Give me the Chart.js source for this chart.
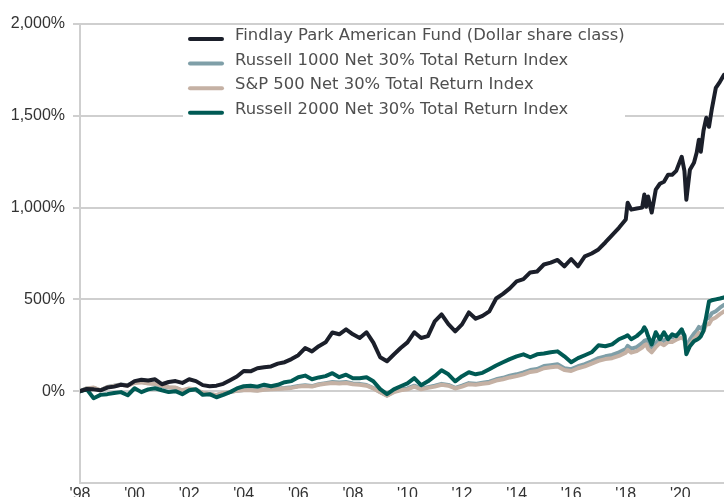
<!DOCTYPE html>
<html>
<head>
<meta charset="utf-8">
<script src="https://cdn.jsdelivr.net/npm/chart.js@4"></script>
<style>
html,body{margin:0;padding:0;overflow:hidden;background:#fff;}
#wrap{width:724px;height:512px;}
</style>
</head>
<body>
<div id="wrap"><canvas id="perf_chart"></canvas></div>
<script>
// decimal years (quarterly to 2017, then denser)
var dates = [
 1998, 1998.25, 1998.5, 1998.75, 1999, 1999.25, 1999.5, 1999.75,
 2000, 2000.25, 2000.5, 2000.75, 2001, 2001.25, 2001.5, 2001.75,
 2002, 2002.25, 2002.5, 2002.75, 2003, 2003.25, 2003.5, 2003.75,
 2004, 2004.25, 2004.5, 2004.75, 2005, 2005.25, 2005.5, 2005.75,
 2006, 2006.25, 2006.5, 2006.75, 2007, 2007.25, 2007.5, 2007.75,
 2008, 2008.25, 2008.5, 2008.75, 2009, 2009.25, 2009.5, 2009.75,
 2010, 2010.25, 2010.5, 2010.75, 2011, 2011.25, 2011.5, 2011.75,
 2012, 2012.25, 2012.5, 2012.75, 2013, 2013.25, 2013.5, 2013.75,
 2014, 2014.25, 2014.5, 2014.75, 2015, 2015.25, 2015.5, 2015.75,
 2016, 2016.25, 2016.5, 2016.75, 2017, 2017.25, 2017.5, 2017.75,
 2018, 2018.07, 2018.2, 2018.4, 2018.6, 2018.68, 2018.75, 2018.82, 2018.95, 2019.1,
 2019.25, 2019.4, 2019.55, 2019.7, 2019.85, 2020.05, 2020.15, 2020.22, 2020.35, 2020.5,
 2020.6, 2020.68, 2020.75, 2020.85, 2020.95, 2021.05, 2021.15, 2021.3, 2021.45, 2021.6
];

var fund = [
 0, 12, 10, 5, 20, 25, 35, 30,
 55, 62, 58, 65, 38, 50, 55, 45,
 65, 55, 33, 27, 30, 40, 60, 80,
 110, 108, 125, 130, 135, 150, 158, 175,
 196, 235, 217, 245, 266, 320, 310, 337,
 310, 290, 321, 265, 185, 163, 200, 235,
 266, 321, 290, 300, 380, 418, 365, 326,
 364, 429, 395, 410, 435, 505, 530, 560,
 598, 610, 647, 652, 690, 700, 715, 680,
 720, 680, 734, 750, 772, 810, 850, 890,
 935, 1027, 989, 995, 1000, 1071, 1005, 1060, 973, 1098,
 1130, 1141, 1179, 1179, 1200, 1277, 1200, 1043, 1206, 1244,
 1300, 1370, 1304, 1420, 1489, 1440, 1533, 1652, 1685, 1723
];

var russell1000 = [
 0, 15, 18, 5, 23, 30, 37, 33,
 50, 50, 45, 40, 28, 20, 18, 3,
 12, 5, -10, -17, -22, -12, -5, 3,
 7, 7, 5, 10, 12, 15, 18, 22,
 28, 32, 28, 38, 44, 50, 47, 50,
 42, 40, 34, 17, -4, -24, -2, 9,
 15, 30, 14, 22, 30, 40, 34, 18,
 30, 44, 40, 46, 52, 65, 73, 84,
 92, 102, 115, 121, 137, 142, 147, 125,
 120, 136, 147, 163, 180, 190, 198, 212,
 230, 247, 231, 240, 262, 274, 279, 252, 232, 262,
 286, 274, 292, 292, 306, 320, 306, 233, 282, 314,
 330, 350, 341, 356, 395, 398, 424, 436, 455, 470
];

var sp500 = [
 0, 15, 20, 5, 22, 28, 35, 30,
 45, 48, 42, 40, 30, 22, 20, 5,
 15, 8, -8, -15, -20, -10, -5, 2,
 5, 5, 3, 8, 10, 12, 15, 18,
 25, 28, 25, 35, 40, 45, 42, 45,
 38, 35, 30, 15, -5, -25, -5, 5,
 10, 25, 10, 18, 25, 35, 30, 15,
 25, 38, 35, 40, 45, 58, 65, 75,
 82, 92, 105, 110, 125, 130, 135, 115,
 110, 125, 135, 150, 165, 175, 180, 192,
 210, 225, 210, 218, 238, 250, 255, 230, 212, 240,
 262, 250, 268, 268, 280, 293, 280, 212, 255, 285,
 300, 318, 310, 326, 364, 365, 390, 402, 420, 435
];

var russell2000 = [
 0, 10, -38, -20, -16, -10, -5, -22,
 16, -5, 10, 16, 5, -5, 0, -16,
 5, 11, -20, -16, -33, -20, -5, 15,
 27, 30, 25, 35, 27, 35, 49, 55,
 76, 85, 65, 75, 82, 98, 76, 90,
 71, 71, 76, 54, 11, -16, 10, 27,
 43, 71, 33, 54, 82, 114, 92, 54,
 82, 103, 92, 100, 120, 140, 158, 175,
 190, 201, 185, 201, 205, 212, 217, 190,
 158, 180, 196, 212, 250, 245, 255, 283,
 299, 305, 283, 300, 326, 348, 330, 299, 255, 321,
 283, 321, 283, 310, 299, 337, 300, 201, 245, 272,
 280, 288, 299, 330, 408, 489, 495, 500, 505, 511
];

var yearTicks = [1998, 2000, 2002, 2004, 2006, 2008, 2010, 2012, 2014, 2016, 2018, 2020];

var seriesNames = [
 'Findlay Park American Fund (Dollar share class)',
 'Russell 1000 Net 30% Total Return Index',
 'S&P 500 Net 30% Total Return Index',
 'Russell 2000 Net 30% Total Return Index'
];
var seriesColors = ['#1b1f2a', '#7f9fa8', '#c5b1a4', '#005a54'];

function toPoints(vals){
  var pts = [];
  for (var i = 0; i < dates.length; i++) {
    pts.push({x: dates[i], y: vals[i]});
  }
  return pts;
}

function makeSet(idx, vals){
  return {
    label: seriesNames[idx],
    data: toPoints(vals),
    borderColor: seriesColors[idx],
    backgroundColor: seriesColors[idx],
    borderWidth: 4,
    pointRadius: 0,
    tension: 0,
    borderJoinStyle: 'round',
    borderCapStyle: 'round',
    fill: false
  };
}

// white box with legend drawn over the gridlines
var legendBox = {
  id: 'legendBox',
  beforeDatasetsDraw: function(chart){
    var ctx = chart.ctx;
    var left = chart.chartArea.left + 103;
    var top = chart.chartArea.top;
    ctx.save();
    ctx.fillStyle = '#ffffff';
    ctx.fillRect(left, top + 2, 442, 95);
    ctx.font = '16.4px "DejaVu Sans"';
    ctx.textBaseline = 'middle';
    ctx.textAlign = 'left';
    for (var i = 0; i < seriesNames.length; i++) {
      var y = top + 12 + i * 24.6;
      ctx.strokeStyle = seriesColors[i];
      ctx.lineWidth = 4;
      ctx.lineCap = 'round';
      ctx.beginPath();
      ctx.moveTo(left + 7, y + 3);
      ctx.lineTo(left + 39, y + 3);
      ctx.stroke();
      ctx.fillStyle = '#4f4f4f';
      ctx.fillText(seriesNames[i], left + 52, y);
    }
    ctx.restore();
  }
};

var ctx = document.getElementById('perf_chart');
var chart = new Chart(ctx, {
  type: 'line',
  data: {
    datasets: [
      makeSet(0, fund),
      makeSet(3, russell2000),
      makeSet(2, sp500),
      makeSet(1, russell1000)
    ]
  },
  options: {
    responsive: true,
    maintainAspectRatio: false,
    animation: false,
    layout: {padding: {top: 24, right: 0, left: 0, bottom: 0}},
    plugins: {legend: {display: false}, tooltip: {enabled: false}},
    scales: {
      x: {
        type: 'linear',
        min: 1998,
        max: 2021.6,
        afterBuildTicks: function(scale){
          scale.ticks = yearTicks.map(function(v){ return {value: v}; });
        },
        afterFit: function(scale){ scale.height = 29; },
        ticks: {
          autoSkip: false,
          maxRotation: 0,
          padding: 2,
          color: '#333333',
          font: {family: '"Liberation Sans", Arial', size: 16},
          callback: function(v){ return "'" + String(v).slice(2); }
        },
        grid: {display: false, drawTicks: false},
        border: {color: '#cfcfcf', width: 2}
      },
      y: {
        min: -500,
        max: 2000,
        afterFit: function(scale){ scale.width = 80; },
        ticks: {
          stepSize: 500,
          padding: 8,
          color: '#333333',
          font: {family: '"Liberation Sans", Arial', size: 16},
          callback: function(v){ return v === -500 ? '' : v.toLocaleString('en-US') + '%'; }
        },
        grid: {
          color: function(c){ return (c.tick && c.tick.value === -500) ? 'rgba(0,0,0,0)' : '#cfcfcf'; },
          lineWidth: 2,
          tickLength: 7
        },
        border: {color: '#cfcfcf', width: 2}
      }
    }
  },
  plugins: [legendBox]
});
</script>
</body>
</html>
